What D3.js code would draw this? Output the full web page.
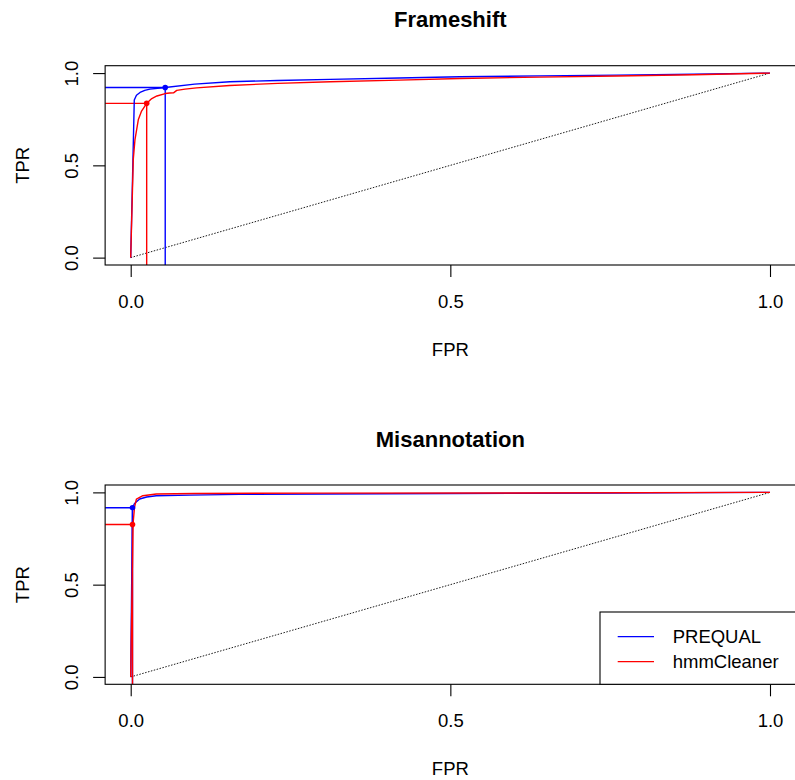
<!DOCTYPE html>
<html>
<head>
<meta charset="utf-8">
<script src="https://cdn.jsdelivr.net/npm/d3@7"></script>
<style>
  body { margin: 0; background: #fff; }
  svg { display: block; font-family: "Liberation Sans", Arial, Helvetica, sans-serif; }
</style>
</head>
<body>
<svg id="chart" width="795" height="780"></svg>
<script>
// ---------- Data ----------
const panelTitles = ["Frameshift", "Misannotation"];
const seriesNames = ["PREQUAL", "hmmCleaner"];
const seriesColors = ["#0000FF", "#FF0000"];
const xTickValues = [0, 0.5, 1.0];
const yTickValues = [0, 0.5, 1.0];

// Frameshift panel
const fsPrequalFPR = [0, 0.003, 0.0056, 0.009, 0.0146, 0.022, 0.030, 0.054, 0.10, 0.155, 0.23, 0.312, 0.42, 0.515, 0.64, 0.76, 0.88, 1.0];
const fsPrequalTPR = [0, 0.45, 0.854, 0.880, 0.895, 0.906, 0.913, 0.922, 0.940, 0.953, 0.960, 0.966, 0.973, 0.980, 0.985, 0.989, 0.994, 1.0];
const fsHmmFPR = [0, 0.004, 0.0067, 0.012, 0.017, 0.025, 0.033, 0.041, 0.054, 0.061, 0.067, 0.072, 0.085, 0.103, 0.155, 0.23, 0.312, 0.42, 0.515, 0.64, 0.76, 0.88, 1.0];
const fsHmmTPR = [0, 0.531, 0.64, 0.749, 0.794, 0.836, 0.862, 0.876, 0.889, 0.892, 0.893, 0.906, 0.913, 0.920, 0.933, 0.944, 0.953, 0.962, 0.971, 0.978, 0.984, 0.991, 1.0];
const fsCutFPR = [0.054, 0.025];
const fsCutTPR = [0.922, 0.836];

// Misannotation panel
const maPrequalFPR = [0, 0.0015, 0.0028, 0.006, 0.014, 0.025, 0.040, 0.092, 0.17, 0.30, 0.50, 0.75, 1.0];
const maPrequalTPR = [0, 0.50, 0.917, 0.940, 0.964, 0.975, 0.982, 0.985, 0.989, 0.991, 0.994, 0.997, 1.0];
const maHmmFPR = [0, 0.0036, 0.006, 0.009, 0.019, 0.040, 0.10, 0.30, 0.60, 1.0];
const maHmmTPR = [0, 0.826, 0.920, 0.964, 0.982, 0.991, 0.994, 0.996, 0.997, 1.0];
const maCutFPR = [0.0028, 0.0028];
const maCutTPR = [0.917, 0.826];

const panels = [
  { title: panelTitles[0], top: 65.7,
    fpr: [fsPrequalFPR, fsHmmFPR], tpr: [fsPrequalTPR, fsHmmTPR],
    cutF: fsCutFPR, cutT: fsCutTPR, legend: false },
  { title: panelTitles[1], top: 485,
    fpr: [maPrequalFPR, maHmmFPR], tpr: [maPrequalTPR, maHmmTPR],
    cutF: maCutFPR, cutT: maCutTPR, legend: true }
];

// ---------- Drawing ----------
const svg = d3.select("#chart");
const boxH = 199.3;
const x = d3.scaleLinear().domain([0, 1]).range([130.7, 770]);
const boxL = x(-0.04), boxR = x(1.04);
const fontSize = 18.5;

panels.forEach((p, pi) => {
  const y = d3.scaleLinear().domain([-0.04, 1.04]).range([p.top + boxH, p.top]);
  const boxT = p.top, boxB = p.top + boxH;
  const g = svg.append("g");

  const clip = "clip" + pi;
  svg.append("clipPath").attr("id", clip)
    .append("rect").attr("x", boxL).attr("y", boxT).attr("width", boxR - boxL).attr("height", boxH);
  const plot = g.append("g").attr("clip-path", `url(#${clip})`);

  // diagonal
  plot.append("line")
    .attr("x1", x(0)).attr("y1", y(0)).attr("x2", x(1)).attr("y2", y(1))
    .attr("stroke", "#000").attr("stroke-width", 0.9).attr("stroke-dasharray", "1.5,1.5");

  // reference lines
  [0, 1].forEach(i => {
    const cx = x(p.cutF[i]), cy = y(p.cutT[i]);
    plot.append("line")
      .attr("x1", boxL).attr("y1", cy).attr("x2", cx).attr("y2", cy)
      .attr("stroke", seriesColors[i]).attr("stroke-width", 1.4);
    plot.append("line")
      .attr("x1", cx).attr("y1", cy).attr("x2", cx).attr("y2", boxB)
      .attr("stroke", seriesColors[i]).attr("stroke-width", 1.4);
  });

  // curves
  const line = d3.line().x(d => x(d[0])).y(d => y(d[1]));
  [0, 1].forEach(i => {
    const pts = p.fpr[i].map((f, k) => [f, p.tpr[i][k]]);
    plot.append("path").datum(pts).attr("d", line)
      .attr("fill", "none").attr("stroke", seriesColors[i]).attr("stroke-width", 1.4)
      .attr("stroke-linejoin", "round");
  });

  // cutoff points
  [0, 1].forEach(i => {
    plot.append("circle").attr("cx", x(p.cutF[i])).attr("cy", y(p.cutT[i])).attr("r", 2.8)
      .attr("fill", seriesColors[i]);
  });

  // box
  g.append("rect").attr("x", boxL).attr("y", boxT).attr("width", boxR - boxL).attr("height", boxH)
    .attr("fill", "none").attr("stroke", "#000").attr("stroke-width", 1.1);

  // x axis
  const xa = g.append("g").attr("transform", `translate(0,${boxB})`)
    .call(d3.axisBottom(x).tickValues(xTickValues).tickSize(12).tickPadding(18).tickFormat(d3.format(".1f")));
  xa.select(".domain").remove();
  xa.selectAll("line").attr("stroke-width", 1.1);
  xa.selectAll("text").attr("font-size", fontSize).attr("font-family", null).attr("fill", "#000");

  // y axis
  const ya = g.append("g").attr("transform", `translate(${boxL},0)`)
    .call(d3.axisLeft(y).tickValues(yTickValues).tickSize(12).tickFormat(d3.format(".1f")));
  ya.select(".domain").remove();
  ya.selectAll("line").attr("stroke-width", 1.1);
  ya.selectAll("text")
    .attr("x", null).attr("y", null).attr("dy", null)
    .attr("transform", "translate(-27,0) rotate(-90)")
    .attr("text-anchor", "middle")
    .attr("font-size", fontSize).attr("font-family", null).attr("fill", "#000");

  // titles
  g.append("text").attr("x", (boxL + boxR) / 2).attr("y", boxT - 38.4)
    .attr("text-anchor", "middle").attr("font-weight", "bold").attr("font-size", 22)
    .text(p.title);
  g.append("text").attr("x", (boxL + boxR) / 2).attr("y", boxB + 91)
    .attr("text-anchor", "middle").attr("font-size", fontSize).text("FPR");
  g.append("text").attr("transform", `translate(28.5,${(boxT + boxB) / 2}) rotate(-90)`)
    .attr("text-anchor", "middle").attr("font-size", fontSize).text("TPR");

  // legend
  if (p.legend) {
    const lg = g.append("g");
    const lx = 600, ly = 612;
    lg.append("rect").attr("x", lx).attr("y", ly).attr("width", boxR - lx).attr("height", boxB - ly)
      .attr("fill", "#fff").attr("stroke", "#000").attr("stroke-width", 1.1);
    seriesNames.forEach((name, i) => {
      const yy = 636.7 + i * 25;
      lg.append("line").attr("x1", 617.7).attr("x2", 654).attr("y1", yy).attr("y2", yy)
        .attr("stroke", seriesColors[i]).attr("stroke-width", 1.2);
      lg.append("text").attr("x", 672.7).attr("y", yy).attr("dy", "0.36em")
        .attr("font-size", fontSize).text(name);
    });
  }
});
</script>
</body>
</html>
